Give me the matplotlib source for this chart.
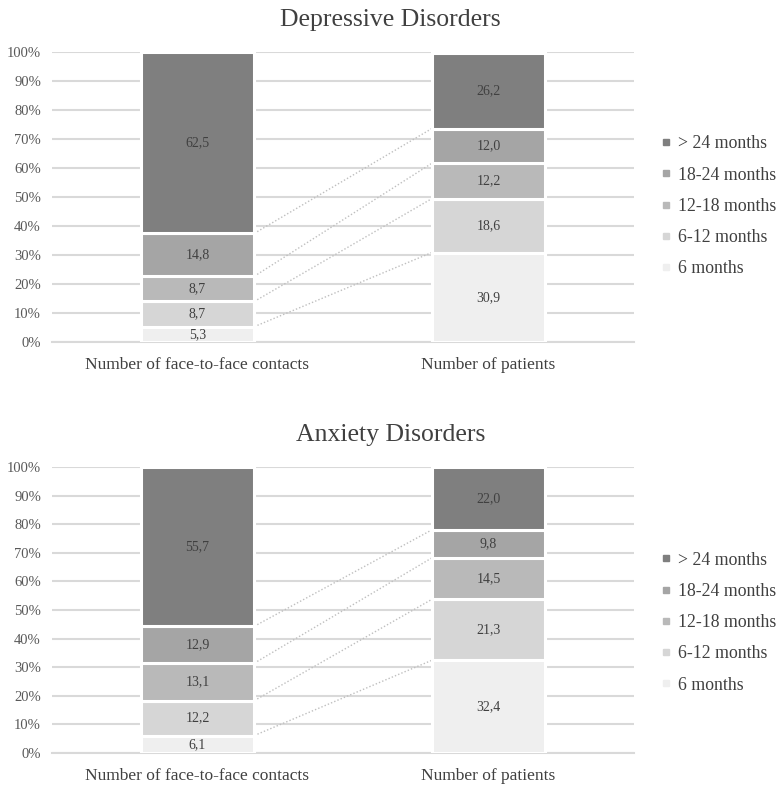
import matplotlib.pyplot as plt
import numpy as np

plt.rcParams['font.family'] = ['Liberation Serif', 'DejaVu Serif']

# stacked shares (%) per duration band, bottom to top
categories = ["Number of face-to-face contacts", "Number of patients"]
bands = ["6 months", "6-12 months", "12-18 months", "18-24 months", "> 24 months"]
colors = ["#efefef", "#d6d6d6", "#b9b9b9", "#a5a5a5", "#7f7f7f"]

dep_values = [
    [5.3, 30.9],
    [8.7, 18.6],
    [8.7, 12.2],
    [14.8, 12.0],
    [62.5, 26.2],
]
anx_values = [
    [6.1, 32.4],
    [12.2, 21.3],
    [13.1, 14.5],
    [12.9, 9.8],
    [55.7, 22.0],
]
titles = ["Depressive Disorders", "Anxiety Disorders"]
yticks = np.arange(0, 101, 10)
ytick_labels = [f"{t}%" for t in yticks]

fig = plt.figure(figsize=(7.76, 7.87), dpi=100)
ax_top = fig.add_axes([0.067, 0.5654, 0.750, 0.368])
ax_bot = fig.add_axes([0.067, 0.0432, 0.750, 0.3634])

bar_w = 0.39
x = np.arange(len(categories))


def draw_panel(ax, values, title, legend_y):
    bottoms = np.zeros(len(categories))
    tops = []
    handles = []
    for vals, col, name in zip(values, colors, bands):
        vals = np.array(vals)
        ax.bar(x, vals, bar_w, bottom=bottoms, color=col, edgecolor="white",
               linewidth=2.2, zorder=3)
        for xi, v, b in zip(x, vals, bottoms):
            ax.text(xi, b + v / 2, f"{v:.1f}".replace(".", ","), ha="center",
                    va="center", fontsize=10, color="#404040", zorder=4)
        bottoms = bottoms + vals
        tops.append(bottoms.copy())
        handles.append(plt.Line2D([], [], marker="s", linestyle="none",
                                  markersize=5, color=col, label=name))

    # series lines between the two bars
    for t in tops[:-1]:
        ax.plot([x[0] + bar_w / 2, x[1] - bar_w / 2], [t[0], t[1]],
                linestyle=(0, (1, 1.5)), color="#bfbfbf", linewidth=1, zorder=2)

    ax.set_xlim(-0.5, 1.5)
    ax.set_ylim(0, 100)
    ax.set_yticks(yticks)
    ax.set_yticklabels(ytick_labels)
    ax.set_xticks(x)
    ax.set_xticklabels(categories, fontsize=12.5, color="#404040")
    ax.tick_params(axis="y", labelsize=10.5, colors="#595959", length=0, pad=8)
    ax.tick_params(axis="x", length=0, pad=11)
    ax.grid(axis="y", color="#d9d9d9", linewidth=1.5, zorder=0)
    for s in ["top", "right", "left"]:
        ax.spines[s].set_visible(False)
    ax.spines["bottom"].set_color("#d9d9d9")
    ax.spines["bottom"].set_linewidth(1.5)
    ax.set_title(title, fontsize=18.5, color="#404040", pad=19, x=0.582)

    fig.legend(handles=handles[::-1], loc="upper left",
               bbox_to_anchor=(0.842, legend_y), frameon=False,
               fontsize=12.8, labelcolor="#404040", handlelength=0.6,
               handletextpad=0.4, labelspacing=0.8, borderaxespad=0)


draw_panel(ax_top, dep_values, titles[0], 0.837)
draw_panel(ax_bot, anx_values, titles[1], 0.308)

fig.savefig("out.png", dpi=100)
